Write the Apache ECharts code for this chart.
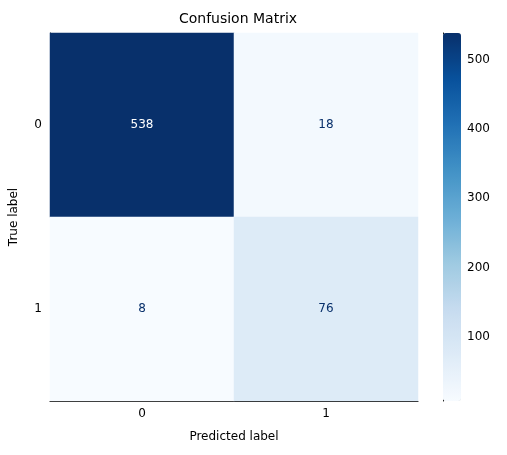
<!DOCTYPE html>
<html><head><meta charset="utf-8">
<script src="https://cdn.jsdelivr.net/npm/echarts@6/dist/echarts.min.js"></script>
<style>html,body{margin:0;padding:0;background:#fff}#c{width:507px;height:455px}</style>
</head><body><div id="c"></div>
<script>
const predLabels = ['0', '1'];
const trueLabels = ['0', '1'];
const counts = [[538, 18], [8, 76]]; // rows: true, cols: predicted
const cbTicks = [100, 200, 300, 400, 500];
const vmin = 8, vmax = 538;
const blues = ['#f7fbff','#deebf7','#c6dbef','#9ecae1','#6baed6','#4292c6','#2171b5','#08519c','#08306b'];

const data = [];
counts.forEach((row, i) => row.forEach((v, j) => {
  data.push({value: [j, i, v], label: {color: v > (vmin + vmax) / 2 ? '#ffffff' : '#08306b'}});
}));
const font = 'DejaVu Sans';
const chart = echarts.init(document.getElementById('c'));
chart.setOption({
  animation: false,
  textStyle: {fontFamily: font},
  title: {text: 'Confusion Matrix', left: 233, top: 7, textAlign: 'center',
    textStyle: {fontFamily: font, fontSize: 14, fontWeight: 'normal', color: '#000'}},
  grid: [
    {left: 48, top: 33, width: 370, height: 368},
    {left: 443, top: 33, width: 18, height: 368}
  ],
  xAxis: [
    {type: 'category', data: predLabels, gridIndex: 0, name: 'Predicted label', nameLocation: 'middle', nameGap: 30,
      nameTextStyle: {fontSize: 12, color: '#000'},
      axisLine: {show: true, lineStyle: {color: '#000'}}, axisTick: {alignWithLabel: true, length: 4, lineStyle: {color: '#000'}},
      axisLabel: {color: '#000', fontSize: 12, margin: 7}, splitLine: {show: false}},
    {type: 'value', gridIndex: 1, show: false, min: 0, max: 1}
  ],
  yAxis: [
    {type: 'category', data: trueLabels, gridIndex: 0, inverse: true, name: 'True label', nameLocation: 'middle', nameGap: 30,
      nameTextStyle: {fontSize: 12, color: '#000'},
      axisLine: {show: true, lineStyle: {color: '#000'}}, axisTick: {alignWithLabel: true, length: 4, lineStyle: {color: '#000'}},
      axisLabel: {color: '#000', fontSize: 12, margin: 8}, splitLine: {show: false}},
    {type: 'value', gridIndex: 1, min: vmin, max: vmax, position: 'right',
      axisLine: {show: true, lineStyle: {color: '#000'}},
      axisTick: {show: true, length: 4, customValues: cbTicks, lineStyle: {color: '#000'}},
      axisLabel: {show: true, customValues: cbTicks, color: '#000', fontSize: 12, margin: 6},
      splitLine: {show: false}}
  ],
  visualMap: {min: vmin, max: vmax, seriesIndex: 0, calculable: false, show: true, orient: 'vertical',
    left: 443, top: 33, itemWidth: 18, itemHeight: 368, text: ['', ''], showLabel: false,
    inRange: {color: blues}, padding: 0, borderWidth: 0},
  series: [
    {type: 'heatmap', xAxisIndex: 0, yAxisIndex: 0, data: data,
      label: {show: true, fontSize: 12, fontFamily: font}},
    {type: 'line', xAxisIndex: 1, yAxisIndex: 1, data: [], silent: true}
  ]
});
</script></body></html>
